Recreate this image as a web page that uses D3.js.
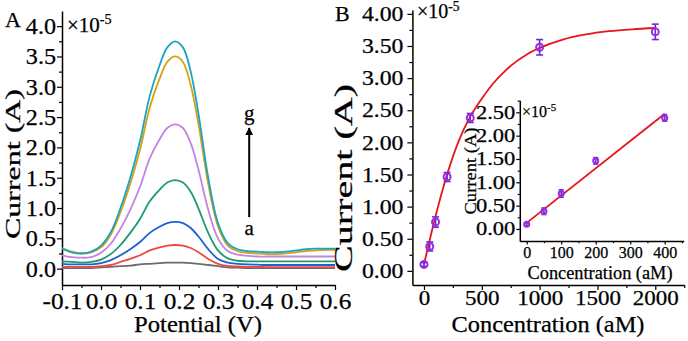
<!DOCTYPE html>
<html>
<head>
<meta charset="utf-8">
<script src="https://cdn.jsdelivr.net/npm/d3@7"></script>
<style>
  body { margin: 0; background: #fff; }
  svg text { font-family: "Liberation Serif", "Times New Roman", serif; fill: #000; stroke: #000; stroke-width: 0.25px; }
</style>
</head>
<body>
<svg id="chart" width="688" height="341"></svg>
<script>
// ---- data (currents in units of 1e-5 A) ----
const potentials = [-0.1, -0.075, -0.05, -0.025, 0, 0.025, 0.05, 0.075, 0.1, 0.125, 0.15, 0.17, 0.19, 0.21, 0.23,
  0.25, 0.275, 0.3, 0.325, 0.35, 0.375, 0.4, 0.425, 0.45, 0.475, 0.5, 0.525, 0.55, 0.575, 0.6]

const currentA = [0.01, 0.01, 0.01, 0.01, 0.02, 0.03, 0.04, 0.05, 0.07, 0.08, 0.09, 0.10, 0.10, 0.10, 0.09,
  0.08, 0.06, 0.04, 0.02, 0.015, 0.01, 0.01, 0.01, 0.01, 0.01, 0.01, 0.01, 0.01, 0.01, 0.01]
const currentB = [0.03, 0.03, 0.03, 0.03, 0.04, 0.06, 0.11, 0.16, 0.22, 0.30, 0.35, 0.38, 0.39, 0.38, 0.34,
  0.27, 0.16, 0.08, 0.045, 0.035, 0.03, 0.03, 0.025, 0.025, 0.025, 0.025, 0.025, 0.025, 0.025, 0.025]
const currentC = [0.08, 0.07, 0.07, 0.07, 0.09, 0.14, 0.22, 0.32, 0.44, 0.59, 0.69, 0.75, 0.77, 0.75, 0.67,
  0.53, 0.32, 0.16, 0.10, 0.08, 0.07, 0.065, 0.06, 0.06, 0.06, 0.06, 0.06, 0.06, 0.06, 0.06]
const currentD = [0.12, 0.11, 0.10, 0.11, 0.15, 0.24, 0.39, 0.59, 0.82, 1.11, 1.30, 1.42, 1.46, 1.42, 1.27,
  0.99, 0.59, 0.30, 0.17, 0.13, 0.12, 0.12, 0.12, 0.12, 0.12, 0.12, 0.12, 0.12, 0.12, 0.12]
const currentE = [0.22, 0.19, 0.18, 0.19, 0.26, 0.41, 0.66, 0.97, 1.35, 1.82, 2.13, 2.32, 2.38, 2.32, 2.07,
  1.63, 0.97, 0.50, 0.29, 0.23, 0.21, 0.20, 0.20, 0.20, 0.20, 0.20, 0.20, 0.20, 0.20, 0.20]
const currentF = [0.34, 0.28, 0.25, 0.27, 0.35, 0.56, 0.93, 1.40, 1.96, 2.66, 3.13, 3.41, 3.50, 3.41, 3.03,
  2.38, 1.40, 0.70, 0.38, 0.29, 0.26, 0.25, 0.24, 0.24, 0.25, 0.27, 0.29, 0.30, 0.31, 0.31]
const currentG = [0.33, 0.27, 0.25, 0.28, 0.38, 0.60, 1.00, 1.50, 2.10, 2.85, 3.35, 3.65, 3.75, 3.65, 3.25,
  2.55, 1.50, 0.75, 0.42, 0.32, 0.29, 0.28, 0.27, 0.27, 0.28, 0.30, 0.32, 0.33, 0.33, 0.33]

const concentrations = [0, 50, 100, 200, 400, 1000, 2000]
const peakCurrent = [0.10, 0.38, 0.76, 1.46, 2.38, 3.48, 3.72]
const peakError = [0.03, 0.07, 0.08, 0.07, 0.07, 0.12, 0.12]

const fitConc = [0, 100, 200, 300, 400, 500, 600, 700, 800, 900, 1000, 1200, 1400, 1600, 1800, 2000]
const fitCurrent = [0.10, 0.85, 1.50, 2.02, 2.40, 2.68, 2.92, 3.11, 3.26, 3.38, 3.47, 3.60, 3.68, 3.73, 3.76, 3.78]

const insetConc = [0, 50, 100, 200, 400]
const insetCurrent = [0.10, 0.38, 0.76, 1.46, 2.38]
const insetError = [0.03, 0.07, 0.08, 0.07, 0.07]
const linConc = [0, 400]
const linCurrent = [0.13, 2.47]

const ticksA_x = [-0.1, 0, 0.1, 0.2, 0.3, 0.4, 0.5, 0.6]
const ticksA_y = [0, 0.5, 1, 1.5, 2, 2.5, 3, 3.5, 4]
const ticksB_x = [0, 500, 1000, 1500, 2000]
const ticksB_y = [0, 0.5, 1, 1.5, 2, 2.5, 3, 3.5, 4]
const ticksIn_x = [0, 100, 200, 300, 400]
const ticksIn_y = [0, 0.5, 1, 1.5, 2, 2.5]

let curves = [currentA, currentB, currentC, currentD, currentE, currentF, currentG]
let curveColors = ["#6b6b6b", "#ea4b45", "#1d5fd4", "#1e9a70", "#c383e3", "#d6a111", "#1ba3c2"]

let svg = d3.select("#chart")

// the original glyphs are wide, so stretch text along its direction
function stretch(sel, sx) {
  sel.each(function () {
    let w = this.getComputedTextLength()
    d3.select(this).attr("textLength", w * sx).attr("lengthAdjust", "spacingAndGlyphs")
  })
}
function fitTo(sel, len) {
  sel.attr("textLength", len).attr("lengthAdjust", "spacingAndGlyphs")
}

function drawAxes(g, x, y, o) {
  let xAxis = g.append("g").attr("transform", `translate(0,${y.range()[0]})`)
    .call(d3.axisBottom(x).tickValues(o.xTicks).tickSize(o.tick).tickSizeOuter(0).tickPadding(o.xPad).tickFormat(o.xFmt))
  g.append("g").attr("transform", `translate(0,${y.range()[0]})`)
    .call(d3.axisBottom(x).tickValues(o.xMinor).tickSize(o.tick * 0.6).tickFormat(""))
    .call(a => a.select(".domain").remove())
  let yAxis = g.append("g").attr("transform", `translate(${x.range()[0]},0)`)
    .call(d3.axisLeft(y).tickValues(o.yTicks).tickSize(o.tick).tickSizeOuter(0).tickPadding(o.yPad).tickFormat(o.yFmt))
  g.append("g").attr("transform", `translate(${x.range()[0]},0)`)
    .call(d3.axisLeft(y).tickValues(o.yMinor).tickSize(o.tick * 0.6).tickFormat(""))
    .call(a => a.select(".domain").remove())

  g.selectAll(".domain").attr("stroke-width", 1.5)
  g.selectAll(".tick line").attr("stroke-width", 1.2)
  xAxis.selectAll("text").attr("font-size", o.xFont)
  yAxis.selectAll("text").attr("font-size", o.yFont)
  stretch(xAxis.selectAll("text"), o.xStretch)
  stretch(yAxis.selectAll("text"), o.yStretch)
}

function exponent(g, xp, yp, size) {
  let t = g.append("text").attr("x", xp).attr("y", yp).attr("font-size", size)
  t.append("tspan").text("×10")
  t.append("tspan").attr("dy", -size * 0.36).attr("font-size", size * 0.68).text("-5")
}

// ---------------- panel A ----------------
let xA = d3.scaleLinear().domain([-0.1, 0.6]).range([62, 335])
let yA = d3.scaleLinear().domain([-0.27, 4.25]).range([285, 11])
let gA = svg.append("g")

drawAxes(gA, xA, yA, {
  tick: 5,
  xTicks: ticksA_x, xMinor: d3.range(-0.05, 0.6, 0.1), xFmt: d => d.toFixed(1), xPad: 3, xFont: 23, xStretch: 1.1,
  yTicks: ticksA_y, yMinor: d3.range(0.25, 4.25, 0.5), yFmt: d => d.toFixed(1), yPad: 1, yFont: 23, yStretch: 1.05
})

let lineA = d3.line()
  .x((d, i) => xA(potentials[i]))
  .y(d => yA(d))
  .curve(d3.curveCatmullRom)

gA.append("g").selectAll("path")
  .data(curves)
  .join("path")
  .attr("fill", "none")
  .attr("stroke", (d, i) => curveColors[i])
  .attr("stroke-width", 1.8)
  .attr("d", lineA)

// arrow a -> g
svg.append("defs").append("marker")
  .attr("id", "head").attr("viewBox", "0 0 10 10").attr("refX", 9).attr("refY", 5)
  .attr("markerWidth", 4).attr("markerHeight", 5).attr("orient", "auto")
  .append("path").attr("d", "M0,0L10,5L0,10Z").attr("fill", "#000")
gA.append("line")
  .attr("x1", xA(0.38)).attr("x2", xA(0.38))
  .attr("y1", yA(0.85)).attr("y2", yA(2.32))
  .attr("stroke", "#000").attr("stroke-width", 2).attr("marker-end", "url(#head)")
gA.append("text").attr("x", xA(0.38)).attr("y", yA(2.45)).attr("text-anchor", "middle").attr("font-size", 21).text("g")
gA.append("text").attr("x", xA(0.38)).attr("y", yA(0.55)).attr("text-anchor", "middle").attr("font-size", 21).text("a")

exponent(gA, 67, 32, 21)
gA.append("text").attr("x", 5).attr("y", 27).attr("font-size", 22).text("A")

gA.append("text")
  .attr("x", 198).attr("y", 332).attr("text-anchor", "middle").attr("font-size", 23)
  .text("Potential (V)")
  .call(fitTo, 128)
gA.append("text")
  .attr("transform", "translate(19.5,164) rotate(-90)")
  .attr("text-anchor", "middle").attr("font-size", 20)
  .text("Current (A)")
  .call(fitTo, 150)

// ---------------- panel B ----------------
let xB = d3.scaleLinear().domain([-100, 2250]).range([412.4, 684.2])
let yB = d3.scaleLinear().domain([-0.22, 4.06]).range([285, 10])
let gB = svg.append("g")

drawAxes(gB, xB, yB, {
  tick: 5,
  xTicks: ticksB_x, xMinor: [250, 750, 1250, 1750, 2250], xFmt: d => d, xPad: 1, xFont: 20, xStretch: 1.15,
  yTicks: ticksB_y, yMinor: d3.range(0.25, 4.25, 0.5), yFmt: d => d.toFixed(2), yPad: 4, yFont: 21, yStretch: 1.13
})

let fitLine = d3.line()
  .x((d, i) => xB(fitConc[i]))
  .y(d => yB(d))
  .curve(d3.curveMonotoneX)

gB.append("path")
  .datum(fitCurrent)
  .attr("fill", "none").attr("stroke", "#e8141b").attr("stroke-width", 1.8)
  .attr("d", fitLine)

function points(g, x, y, xs, ys, es, r, cap) {
  let pts = g.append("g").selectAll("g")
    .data(ys)
    .join("g")
  pts.append("line")
    .attr("x1", (d, i) => x(xs[i])).attr("x2", (d, i) => x(xs[i]))
    .attr("y1", (d, i) => y(d - es[i])).attr("y2", (d, i) => y(d + es[i]))
    .attr("stroke", "#6a2cd6").attr("stroke-width", 1.6)
  pts.each(function (d, i) {
    for (let s of [-1, 1]) {
      d3.select(this).append("line")
        .attr("x1", x(xs[i]) - cap).attr("x2", x(xs[i]) + cap)
        .attr("y1", y(d + s * es[i])).attr("y2", y(d + s * es[i]))
        .attr("stroke", "#6a2cd6").attr("stroke-width", 1.6)
    }
  })
  pts.append("circle")
    .attr("cx", (d, i) => x(xs[i])).attr("cy", d => y(d))
    .attr("r", r)
    .attr("fill", "none").attr("stroke", "#9a2be0").attr("stroke-width", 2)
}

points(gB, xB, yB, concentrations, peakCurrent, peakError, 3.5, 3.5)

exponent(gB, 417, 18, 20)
gB.append("text").attr("x", 335).attr("y", 21).attr("font-size", 22).text("B")

gB.append("text")
  .attr("x", 548).attr("y", 332).attr("text-anchor", "middle").attr("font-size", 23)
  .text("Concentration (aM)")
  .call(fitTo, 193)
gB.append("text")
  .attr("transform", "translate(352,178) rotate(-90)")
  .attr("text-anchor", "middle").attr("font-size", 25)
  .text("Current (A)")
  .call(fitTo, 188)

// ---------------- inset ----------------
let xI = d3.scaleLinear().domain([-20, 455]).range([519.8, 683.7])
let yI = d3.scaleLinear().domain([-0.26, 2.76]).range([241.1, 100.2])
let gI = svg.append("g")

drawAxes(gI, xI, yI, {
  tick: 3.5,
  xTicks: ticksIn_x, xMinor: [50, 150, 250, 350, 450], xFmt: d => d, xPad: 2, xFont: 16, xStretch: 1.0,
  yTicks: ticksIn_y, yMinor: [0.25, 0.75, 1.25, 1.75, 2.25, 2.75], yFmt: d => d.toFixed(2), yPad: 1, yFont: 18, yStretch: 1.25
})

let linLine = d3.line()
  .x((d, i) => xI(linConc[i]))
  .y(d => yI(d))

gI.append("path")
  .datum(linCurrent)
  .attr("fill", "none").attr("stroke", "#e8141b").attr("stroke-width", 1.8)
  .attr("d", linLine)

points(gI, xI, yI, insetConc, insetCurrent, insetError, 2.5, 2.5)

exponent(gI, 522, 117, 16)

gI.append("text")
  .attr("x", 600).attr("y", 279).attr("text-anchor", "middle").attr("font-size", 18)
  .text("Concentration (aM)")
  .call(fitTo, 145)
gI.append("text")
  .attr("transform", "translate(476,171) rotate(-90)")
  .attr("text-anchor", "middle").attr("font-size", 17)
  .text("Current (A)")
  .call(fitTo, 87)
</script>
</body>
</html>
